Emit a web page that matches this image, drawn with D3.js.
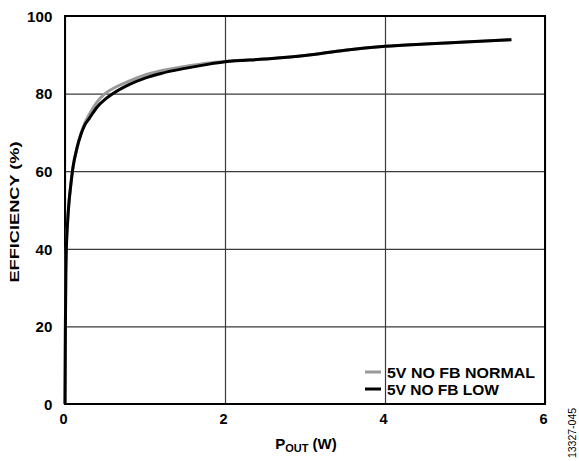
<!DOCTYPE html>
<html>
<head>
<meta charset="utf-8">
<script src="https://cdn.jsdelivr.net/npm/d3@7"></script>
<style>
  html, body { margin: 0; padding: 0; background: #fff; }
  svg { display: block; font-family: "Liberation Sans", Arial, sans-serif; }
</style>
</head>
<body>
<svg id="chart" width="579" height="461"></svg>
<script>
// ---- data ----
const pout = [0, 0.005, 0.01, 0.02, 0.03, 0.05, 0.07, 0.1, 0.15, 0.2, 0.25, 0.3, 0.4, 0.5, 0.6, 0.8, 1.0, 1.2, 1.5, 1.8, 2.0, 2.5, 3.0, 3.5, 4.0, 4.5, 5.0, 5.58];
const effNormal = [0, 20, 33, 42, 46, 52, 56, 61, 66, 69.8, 72.5, 74.5, 77.8, 80, 81.3, 83.2, 84.8, 85.9, 87, 87.9, 88.3, 88.9, 89.8, 91.2, 92.2, 92.8, 93.3, 93.9];
const effLow    = [0, 20, 33, 42, 46, 52, 56, 61, 66, 69.5, 72, 73.5, 76.5, 78.5, 80, 82.3, 84, 85.2, 86.5, 87.6, 88.2, 88.9, 89.8, 91.2, 92.2, 92.8, 93.3, 93.9];
const xTicks = [0, 2, 4, 6];
const yTicks = [0, 20, 40, 60, 80, 100];
const seriesNames = ["5V NO FB NORMAL", "5V NO FB LOW"];
const seriesColors = ["#999999", "#000000"];

const svg = d3.select("#chart");
const m = { left: 65, top: 16, right: 545, bottom: 404 };
const x = d3.scaleLinear().domain([0, 6]).range([m.left, m.right]);
const y = d3.scaleLinear().domain([0, 100]).range([m.bottom, m.top]);

// grid + axes
const gx = svg.append("g").attr("transform", `translate(0,${m.bottom})`)
  .call(d3.axisBottom(x).tickValues(xTicks).tickSize(-(m.bottom - m.top)).tickPadding(10).tickFormat(d3.format("d")));
const gy = svg.append("g").attr("transform", `translate(${m.left},0)`)
  .call(d3.axisLeft(y).tickValues(yTicks).tickSize(-(m.right - m.left)).tickPadding(12).tickFormat(d3.format("d")));
[gx, gy].forEach(g => {
  g.select(".domain").remove();
  g.selectAll(".tick line").attr("stroke", "#3a3a3a").attr("stroke-width", 1.2);
  g.selectAll(".tick text").attr("fill", "#000").attr("font-size", 14.5).attr("font-weight", "bold")
    .attr("font-family", "Liberation Sans, Arial, sans-serif");
});
gx.selectAll(".tick text").attr("dy", "0.71em").attr("dx", -2);
gy.selectAll(".tick text").attr("dy", "0.36em").attr("x", -12.7)
  .attr("textLength", d => String(d).length * 8.4).attr("lengthAdjust", "spacingAndGlyphs");

// frame
svg.append("rect").attr("x", m.left).attr("y", m.top)
  .attr("width", m.right - m.left).attr("height", m.bottom - m.top)
  .attr("fill", "none").attr("stroke", "#000").attr("stroke-width", 2);

// lines
const line = d3.line().x(d => x(d[0])).y(d => y(d[1])).curve(d3.curveMonotoneX);
const seriesData = [effNormal, effLow];
seriesData.forEach((vals, i) => {
  svg.append("path")
    .datum(pout.map((p, j) => [p, vals[j]]))
    .attr("fill", "none")
    .attr("stroke", seriesColors[i])
    .attr("stroke-width", 3)
    .attr("stroke-linejoin", "round")
    .attr("d", line);
});

// legend
const legY = [372, 389];
seriesNames.forEach((name, i) => {
  svg.append("line").attr("x1", 365).attr("x2", 381).attr("y1", legY[i]).attr("y2", legY[i])
    .attr("stroke", seriesColors[i]).attr("stroke-width", 3);
  svg.append("text").attr("x", 387).attr("y", legY[i] + 6)
    .attr("font-size", 14).attr("font-weight", "bold").attr("fill", "#000")
    .attr("textLength", i === 0 ? 148 : 112).attr("lengthAdjust", "spacingAndGlyphs")
    .text(name);
});

// axis titles
svg.append("text")
  .attr("transform", "translate(19,212) rotate(-90)")
  .attr("text-anchor", "middle").attr("font-size", 13).attr("font-weight", "bold")
  .attr("textLength", 141).attr("lengthAdjust", "spacingAndGlyphs")
  .text("EFFICIENCY (%)");

const xt = svg.append("text").attr("x", 306).attr("y", 449)
  .attr("text-anchor", "middle").attr("font-size", 15).attr("font-weight", "bold");
xt.append("tspan").text("P");
xt.append("tspan").attr("font-size", 11).attr("dy", 3).text("OUT");
xt.append("tspan").attr("dy", -3).text(" (W)");

// figure id
svg.append("text")
  .attr("transform", "translate(576,433) rotate(-90)")
  .attr("text-anchor", "middle").attr("font-size", 10.5).attr("fill", "#000")
  .text("13327-045");
</script>
</body>
</html>
